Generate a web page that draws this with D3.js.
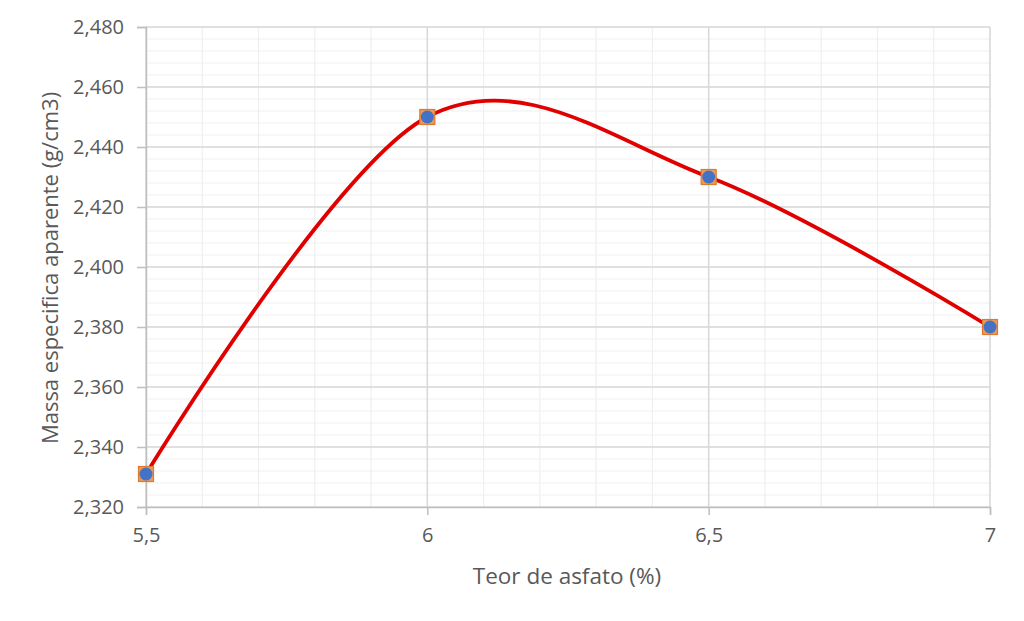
<!DOCTYPE html>
<html><head><meta charset="utf-8">
<script src="https://cdn.jsdelivr.net/npm/d3@7"></script>
<style>body{margin:0;background:#fff;} text{font-family:"Open Sans",sans-serif;fill:#595959;}</style>
</head><body>
<svg id="c" width="1024" height="621"></svg>
<script>
const teor = [5.5, 6, 6.5, 7];
const massa = [2.331, 2.45, 2.43, 2.38];
const xTicks = [5.5, 6, 6.5, 7];
const yTicks = [2.32, 2.34, 2.36, 2.38, 2.40, 2.42, 2.44, 2.46, 2.48];
const xTitle = "Teor de asfato (%)";
const yTitle = "Massa especifica aparente (g/cm3)";

const svg = d3.select("#c");
const x = d3.scaleLinear().domain([5.5, 7]).range([146, 990]);
const y = d3.scaleLinear().domain([2.32, 2.48]).range([507, 27]);
const fmtY = v => d3.format(".3f")(v).replace(".", ",");
const fmtX = v => String(v).replace(".", ",");

// minor gridlines
const minorY = d3.range(0, 41).map(i => 2.32 + i * 0.004);
const minorX = d3.range(0, 16).map(i => 5.5 + i * 0.1);
svg.append("g").selectAll("line").data(minorY).join("line")
  .attr("x1", 146).attr("x2", 990).attr("y1", d => y(d)).attr("y2", d => y(d))
  .attr("stroke", "#efefef").attr("stroke-width", 1.2);
svg.append("g").selectAll("line").data(minorX).join("line")
  .attr("y1", 27).attr("y2", 507).attr("x1", d => x(d)).attr("x2", d => x(d))
  .attr("stroke", "#efefef").attr("stroke-width", 1.2);
// major gridlines
svg.append("g").selectAll("line").data(yTicks).join("line")
  .attr("x1", 146).attr("x2", 990).attr("y1", d => y(d)).attr("y2", d => y(d))
  .attr("stroke", "#d9d9d9").attr("stroke-width", 1.5);
svg.append("g").selectAll("line").data(xTicks).join("line")
  .attr("y1", 27).attr("y2", 507).attr("x1", d => x(d)).attr("x2", d => x(d))
  .attr("stroke", "#d9d9d9").attr("stroke-width", 1.5);

// axes
const ya = svg.append("g").attr("transform", "translate(146,0)")
  .call(d3.axisLeft(y).tickValues(yTicks).tickFormat(fmtY).tickSize(9).tickPadding(13));
const xa = svg.append("g").attr("transform", "translate(0,507)")
  .call(d3.axisBottom(x).tickValues(xTicks).tickFormat(fmtX).tickSize(8).tickPadding(13));
[ya, xa].forEach(a => {
  a.attr("font-size", 20).attr("font-family", "Open Sans");
  a.select(".domain").attr("stroke", "#bfbfbf").attr("stroke-width", 1.5);
  a.selectAll(".tick line").attr("stroke", "#bfbfbf").attr("stroke-width", 1.5);
  a.selectAll("text").attr("fill", "#595959");
});

// titles
svg.append("text").attr("x", 567).attr("y", 584).attr("text-anchor", "middle")
  .style("font-size", "22.5px").text(xTitle);
svg.append("text").attr("transform", "translate(58,268) rotate(-90)").attr("text-anchor", "middle")
  .style("font-size", "22px").text(yTitle);

// curve
const pts = teor.map((t, i) => [x(t), y(massa[i])]);
svg.append("path").attr("d", d3.line().curve(d3.curveCardinal.tension(0))(pts))
  .attr("fill", "none").attr("stroke", "#e00000").attr("stroke-width", 3.8);

// markers
svg.append("g").selectAll("rect").data(pts).join("rect")
  .attr("x", d => d[0] - 7.5).attr("y", d => d[1] - 7.5).attr("width", 15).attr("height", 15)
  .attr("fill", "#ec9a5a").attr("stroke", "#dd7a30").attr("stroke-width", 1.2);
svg.append("g").selectAll("circle").data(pts).join("circle")
  .attr("cx", d => d[0]).attr("cy", d => d[1]).attr("r", 6.5).attr("fill", "#4472c4");
</script>
</body></html>
